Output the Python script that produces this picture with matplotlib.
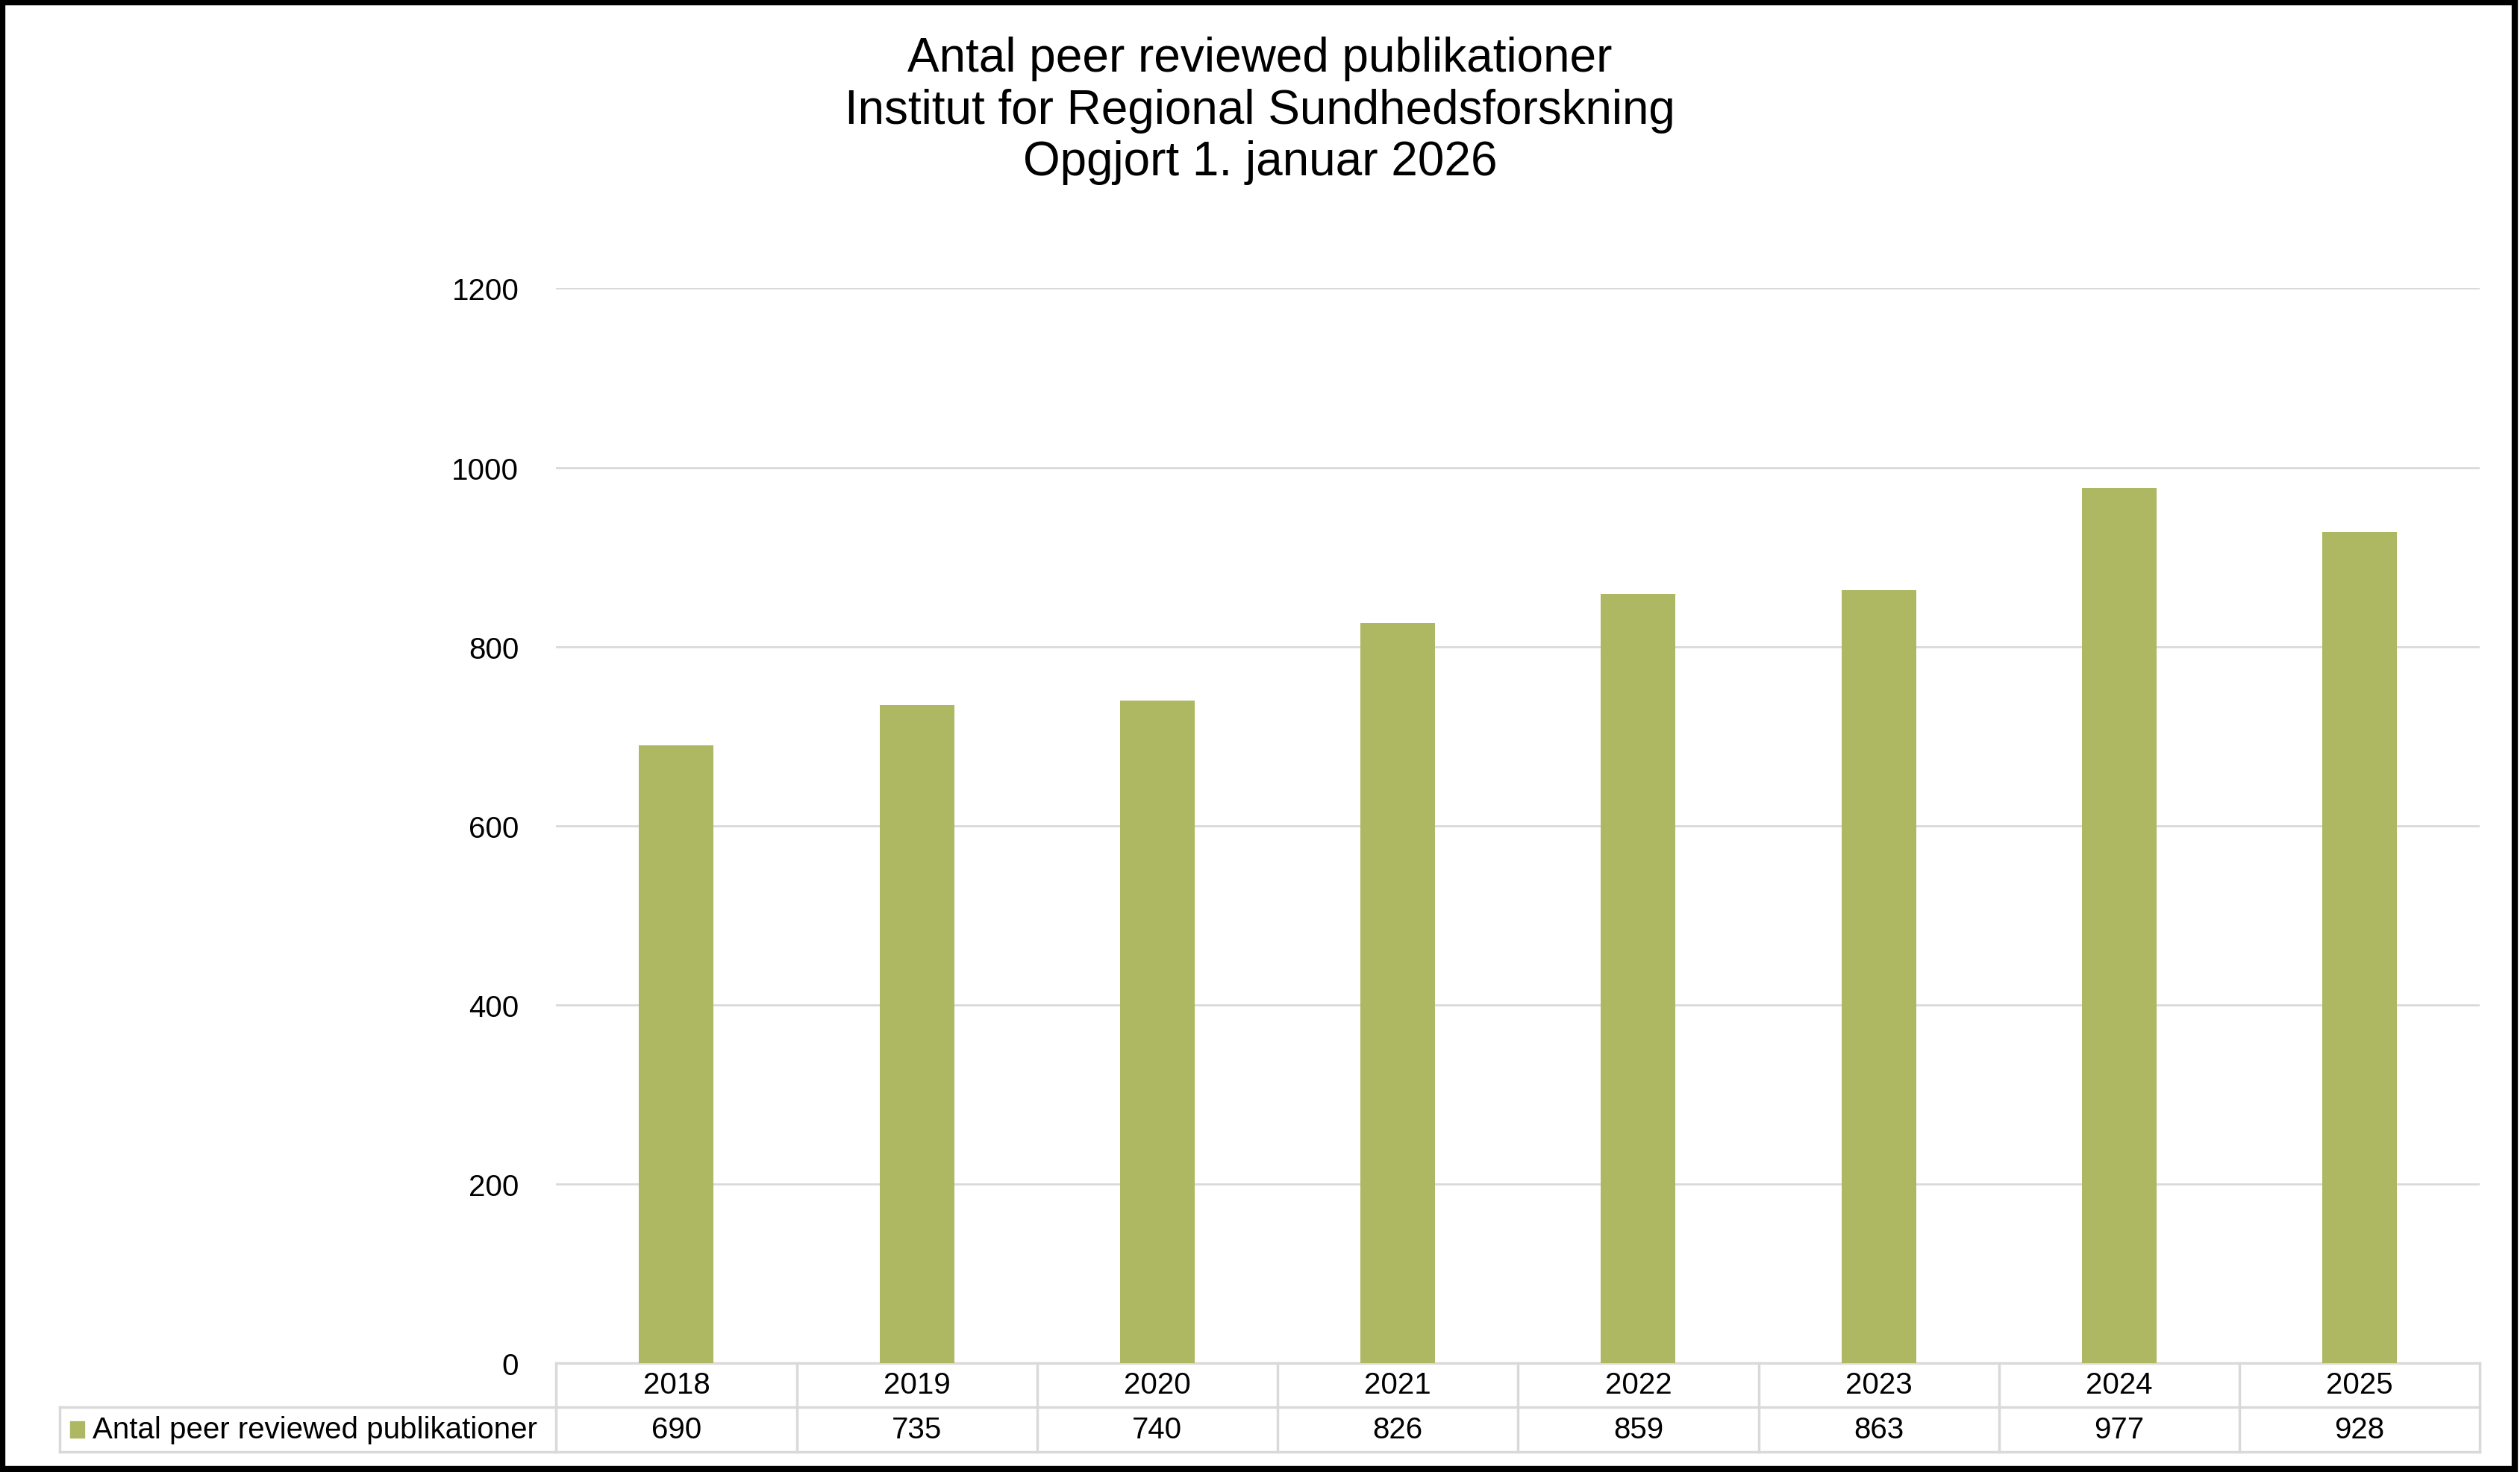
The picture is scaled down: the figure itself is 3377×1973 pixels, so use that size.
import matplotlib
matplotlib.use("Agg")
import matplotlib.pyplot as plt
from matplotlib.patches import Rectangle
import matplotlib.transforms as mtransforms

plt.rcParams["font.family"] = ["Liberation Sans", "DejaVu Sans"]

# Data
years = ["2018", "2019", "2020", "2021", "2022", "2023", "2024", "2025"]
counts = [690, 735, 740, 826, 859, 863, 977, 928]
series_name = "Antal peer reviewed publikationer"
title = ("Antal peer reviewed publikationer\n"
         "Institut for Regional Sundhedsforskning\n"
         "Opgjort 1. januar 2026")

GREEN = "#AEB862"
GRID = "#D9D9D9"
FS = 29

fig = plt.figure(figsize=(33.77, 19.74), dpi=100)
ax = fig.add_axes([0.2207, 0.0742, 0.9841 - 0.2207, 0.8037 - 0.0742])

x = list(range(len(years)))
ax.bar(x, counts, width=0.31, color=GREEN, zorder=3)
ax.set_xlim(-0.5, len(years) - 0.5)
ax.set_ylim(0, 1200)
ax.set_yticks(range(0, 1201, 200))
ax.yaxis.grid(True, color=GRID, linewidth=2, zorder=0)
ax.tick_params(axis="y", length=0, labelsize=FS, pad=36)
ax.set_xticks([])
for s in ax.spines.values():
    s.set_visible(False)

fig.suptitle(title, fontsize=46, y=0.975, va="top", linespacing=1.2)

# Data table below the plot
h = (904.5 - 849) / 669.0  # table height in axes units
rh = h / 2
tb = mtransforms.blended_transform_factory(ax.transData, ax.transAxes)
kw = dict(color=GRID, linewidth=2.5, clip_on=False)
ax.plot([-0.5, 7.5], [0, 0], transform=tb, **kw)
ax.plot([-0.5, 7.5], [-rh, -rh], transform=tb, **kw)
ax.plot([-0.5, 7.5], [-h, -h], transform=tb, **kw)
for i in range(len(years) + 1):
    ax.plot([i - 0.5, i - 0.5], [0, -h], transform=tb, **kw)
# legend cell
aw = (1543 - 346) / 1568.0 * 1568  # axes width in display px of reference
lx0 = (37 - 346) / aw
ax.plot([lx0, 0], [-rh, -rh], transform=ax.transAxes, **kw)
ax.plot([lx0, 0], [-h, -h], transform=ax.transAxes, **kw)
ax.plot([lx0, lx0], [-rh, -h], transform=ax.transAxes, **kw)

for i, (yr, c) in enumerate(zip(years, counts)):
    ax.text(i, -rh / 2, yr, transform=tb, ha="center", va="center", fontsize=FS)
    ax.text(i, -rh * 1.5, str(c), transform=tb, ha="center", va="center", fontsize=FS)

ax.add_patch(Rectangle((lx0 + 0.0055, -rh * 1.5 - 0.0075), 0.0072, 0.015,
                       transform=ax.transAxes, color=GREEN, clip_on=False))
ax.text(lx0 + 0.017, -rh * 1.5, series_name, transform=ax.transAxes,
        ha="left", va="center", fontsize=FS)

# outer border
fig.add_artist(Rectangle((0.001, 0.002), 0.997, 0.996, transform=fig.transFigure,
                         fill=False, edgecolor="black", linewidth=6))

fig.savefig("out.png", dpi=100)
